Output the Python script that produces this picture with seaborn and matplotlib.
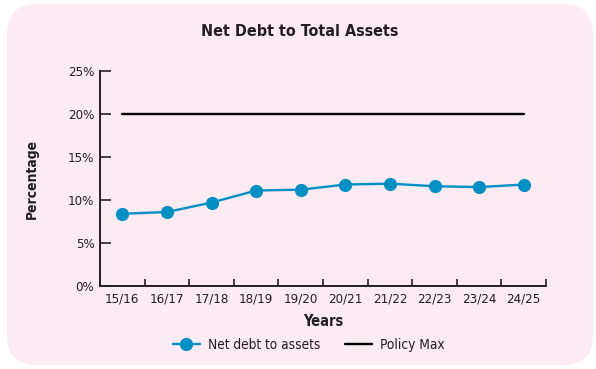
import matplotlib
matplotlib.use("Agg")
import matplotlib.pyplot as plt
from matplotlib.patches import FancyBboxPatch
from matplotlib.lines import Line2D
import seaborn as sns
import pandas as pd

years = ["15/16", "16/17", "17/18", "18/19", "19/20", "20/21", "21/22", "22/23", "23/24", "24/25"]
net_debt_to_assets = [8.4, 8.6, 9.7, 11.1, 11.2, 11.8, 11.9, 11.6, 11.5, 11.8]
policy_max = [20, 20, 20, 20, 20, 20, 20, 20, 20, 20]
y_ticks = [0, 5, 10, 15, 20, 25]

BLUE = "#0090c6"
INK = "#231f20"
PINK = "#fcebf3"

sns.set_theme(style="white")
plt.rcParams["font.family"] = ["DejaVu Sans"]
plt.rcParams["font.stretch"] = "condensed"
plt.rcParams["text.color"] = INK

df = pd.DataFrame({
    "idx": range(len(years)),
    "Net debt to assets": net_debt_to_assets,
    "Policy Max": policy_max,
})

W, H = 596, 369
fig = plt.figure(figsize=(W / 100, H / 100), dpi=100)
fig.patch.set_facecolor("white")

# rounded pink panel behind the chart
panel = FancyBboxPatch((7 / W, 4 / H), 586 / W, 361 / H,
                       boxstyle="round,pad=0,rounding_size=0.05",
                       transform=fig.transFigure, facecolor=PINK,
                       edgecolor="none", zorder=-5, mutation_aspect=W / H)
fig.patches.append(panel)

ax = fig.add_axes([100 / W, 1 - 286 / H, 446 / W, 215 / H])
ax.set_facecolor("none")
ax.set_zorder(2)

sns.lineplot(data=df, x="idx", y="Policy Max", ax=ax, color="black",
             linewidth=1.7, zorder=2)
sns.lineplot(data=df, x="idx", y="Net debt to assets", ax=ax, color=BLUE,
             linewidth=1.7, marker="o", markersize=9.5, markeredgewidth=0,
             zorder=3)

ax.set_xlim(-0.5, len(years) - 0.5)
ax.set_ylim(0, 25)
ax.set_yticks(y_ticks)
ax.set_yticklabels([f"{v}%" for v in y_ticks])
ax.set_xticks(range(len(years)))
ax.set_xticklabels(years)
ax.set_xticks([i - 0.5 for i in range(len(years) + 1)], minor=True)

ax.tick_params(axis="x", which="major", length=0, pad=5, labelsize=9.5, labelcolor=INK)
ax.tick_params(axis="x", which="minor", direction="in", length=5, width=1.2, color=INK, bottom=True)
ax.tick_params(axis="y", direction="in", length=8, width=1.2, color=INK, left=True,
               pad=4, labelsize=9.5, labelcolor=INK)

for side in ("top", "right"):
    ax.spines[side].set_visible(False)
for side in ("left", "bottom"):
    ax.spines[side].set_color(INK)
    ax.spines[side].set_linewidth(1.4)

ax.set_xlabel("Years", fontsize=10.5, fontweight="bold", labelpad=6, color=INK)
ax.set_ylabel("Percentage", fontsize=10, fontweight="bold", labelpad=21, color=INK)
fig.text(0.503, 1 - 31 / H, "Net Debt to Total Assets", ha="center", va="center",
         fontsize=11.5, fontweight="bold", color=INK)

handles = [
    Line2D([], [], color=BLUE, linewidth=1.7, marker="o", markersize=9.5, markeredgewidth=0),
    Line2D([], [], color="black", linewidth=1.7),
]
fig.legend(handles, ["Net debt to assets", "Policy Max"], loc="center",
           bbox_to_anchor=(0.518, 1 - 345 / H), ncol=2, frameon=False,
           fontsize=9.8, handlelength=2.0, columnspacing=1.8, handletextpad=0.6)

fig.savefig("out.png", dpi=100, facecolor="white")
